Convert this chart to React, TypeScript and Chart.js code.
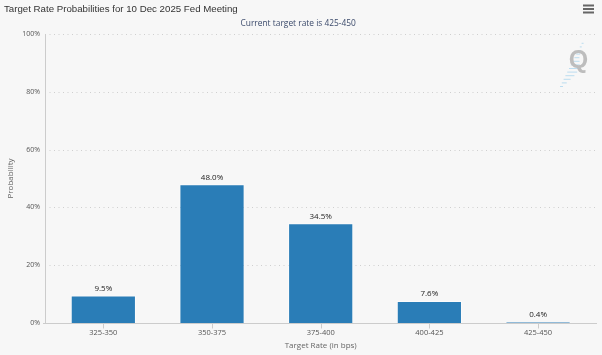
import React, { useEffect, useRef } from "react";
import { Chart, registerables } from "chart.js";

Chart.register(...registerables);

const categories = ["325-350", "350-375", "375-400", "400-425", "425-450"];
const probabilities = [9.5, 48.0, 34.5, 7.6, 0.4];
const yTicks = [0, 20, 40, 60, 80, 100];
const titleText = "Target Rate Probabilities for 10 Dec 2025 Fed Meeting";
const subtitleText = "Current target rate is 425-450";
const xTitle = "Target Rate (in bps)";
const yTitle = "Probability";

const W = 602;
const H = 355;
const AXIS_X = 45;
const AXIS_RIGHT = 597;

const decorPlugin = {
  id: "decor",
  beforeDatasetsDraw(chart: any) {
    const { ctx, chartArea, scales } = chart;
    const y = scales.y;
    ctx.save();
    // dotted gridlines
    ctx.strokeStyle = "#cfcfcf";
    ctx.lineWidth = 1;
    ctx.setLineDash([1, 3.5]);
    yTicks.forEach((t) => {
      if (t === 0) return;
      const py = Math.round(y.getPixelForValue(t)) + 0.5;
      ctx.beginPath();
      ctx.moveTo(AXIS_X, py);
      ctx.lineTo(AXIS_RIGHT, py);
      ctx.stroke();
    });
    ctx.setLineDash([]);
    // y axis line
    ctx.strokeStyle = "#cccccc";
    ctx.beginPath();
    ctx.moveTo(AXIS_X + 0.5, chartArea.top);
    ctx.lineTo(AXIS_X + 0.5, chartArea.bottom);
    ctx.stroke();
    ctx.restore();
  },
  afterDatasetsDraw(chart: any) {
    const { ctx, chartArea, scales } = chart;
    const x = scales.x;
    ctx.save();
    // x axis line
    const by = Math.round(chartArea.bottom) + 0.5;
    ctx.strokeStyle = "#cccccc";
    ctx.lineWidth = 1;
    ctx.beginPath();
    ctx.moveTo(AXIS_X - 2, by);
    ctx.lineTo(AXIS_RIGHT, by);
    ctx.stroke();
    categories.forEach((_, i) => {
      const px = Math.round(x.getPixelForValue(i)) + 0.5;
      ctx.beginPath();
      ctx.moveTo(px, by);
      ctx.lineTo(px, by + 5);
      ctx.stroke();
    });
    // data labels
    const meta = chart.getDatasetMeta(0);
    ctx.fillStyle = "#222222";
    ctx.font = "8px 'Open Sans'";
    ctx.textAlign = "center";
    ctx.textBaseline = "middle";
    meta.data.forEach((bar: any, i: number) => {
      ctx.fillText(probabilities[i].toFixed(1) + "%", bar.x, bar.y - 7);
    });
    // menu icon
    ctx.fillStyle = "#666666";
    [4.5, 8, 11.5].forEach((yy) => ctx.fillRect(583, yy, 11, 2));
    // watermark
    ctx.strokeStyle = "rgba(140,200,235,0.55)";
    ctx.lineWidth = 1;
    const lens = [3, 5, 7, 9, 10, 10, 9, 7, 5, 4, 3, 2, 2];
    for (let k = 0; k < lens.length; k++) {
      const sy = 86 - k * 3.6;
      const sx = 560 + k * 1.8;
      ctx.beginPath();
      ctx.moveTo(sx, sy + 0.5);
      ctx.lineTo(sx + lens[k], sy + 0.5);
      ctx.stroke();
    }
    ctx.fillStyle = "#bdbdbd";
    ctx.font = "bold 25px 'Liberation Sans'";
    ctx.textAlign = "center";
    ctx.textBaseline = "middle";
    ctx.fillText("Q", 578.5, 61);
    ctx.restore();
  },
};

export default function App() {
  const ref = useRef<HTMLCanvasElement>(null);
  useEffect(() => {
    if (!ref.current) return;
    const chart = new Chart(ref.current, {
      type: "bar",
      data: {
        labels: categories,
        datasets: [
          {
            data: probabilities,
            backgroundColor: "#2a7db7",
            borderColor: "rgba(255,255,255,0.55)",
            borderWidth: 1,
            categoryPercentage: 0.6,
            barPercentage: 1,
          },
        ],
      },
      options: {
        animation: false,
        responsive: false,
        layout: { padding: { left: 4, right: 9.6, top: 0, bottom: 0 } },
        plugins: {
          legend: { display: false },
          tooltip: { enabled: false },
          title: {
            display: true,
            text: titleText,
            align: "start",
            color: "#333333",
            font: { family: "'Liberation Sans'", size: 9.7, weight: "normal" },
            padding: { top: 3.2, bottom: 3.46 },
          },
          subtitle: {
            display: true,
            text: subtitleText,
            color: "#3b4a6b",
            font: { family: "'Open Sans'", size: 8.4, weight: "normal" },
            padding: { top: 0, bottom: 5.6 },
          },
        },
        scales: {
          x: {
            offset: true,
            grid: { display: false, drawTicks: false },
            border: { display: false },
            ticks: {
              color: "#555555",
              font: { family: "'Open Sans'", size: 7.5 },
              padding: 5,
              maxRotation: 0,
            },
            title: {
              display: true,
              text: xTitle,
              color: "#666666",
              font: { family: "'Open Sans'", size: 8 },
              padding: { top: 0, bottom: 4.6 },
            },
            afterFit: (s: any) => {
              s.height = 32;
            },
          },
          y: {
            min: 0,
            max: 100,
            grid: { display: false, drawTicks: false },
            border: { display: false },
            afterBuildTicks: (s: any) => {
              s.ticks = yTicks.map((v) => ({ value: v }));
            },
            ticks: {
              color: "#555555",
              font: { family: "'Open Sans'", size: 7 },
              padding: 9,
              callback: (v: any) => v + "%",
            },
            title: {
              display: true,
              text: yTitle,
              color: "#666666",
              font: { family: "'Open Sans'", size: 8 },
              padding: { top: 1.6, bottom: 0 },
            },
            afterFit: (s: any) => {
              s.width = 45;
            },
          },
        },
      },
      plugins: [decorPlugin],
    });
    return () => chart.destroy();
  }, []);
  return (
    <div
      style={{
        position: "fixed",
        left: 0,
        top: 0,
        width: W,
        height: H,
        background: "#f7f7f7",
      }}
    >
      <canvas ref={ref} width={W} height={H} style={{ width: W, height: H, display: "block" }} />
    </div>
  );
}
